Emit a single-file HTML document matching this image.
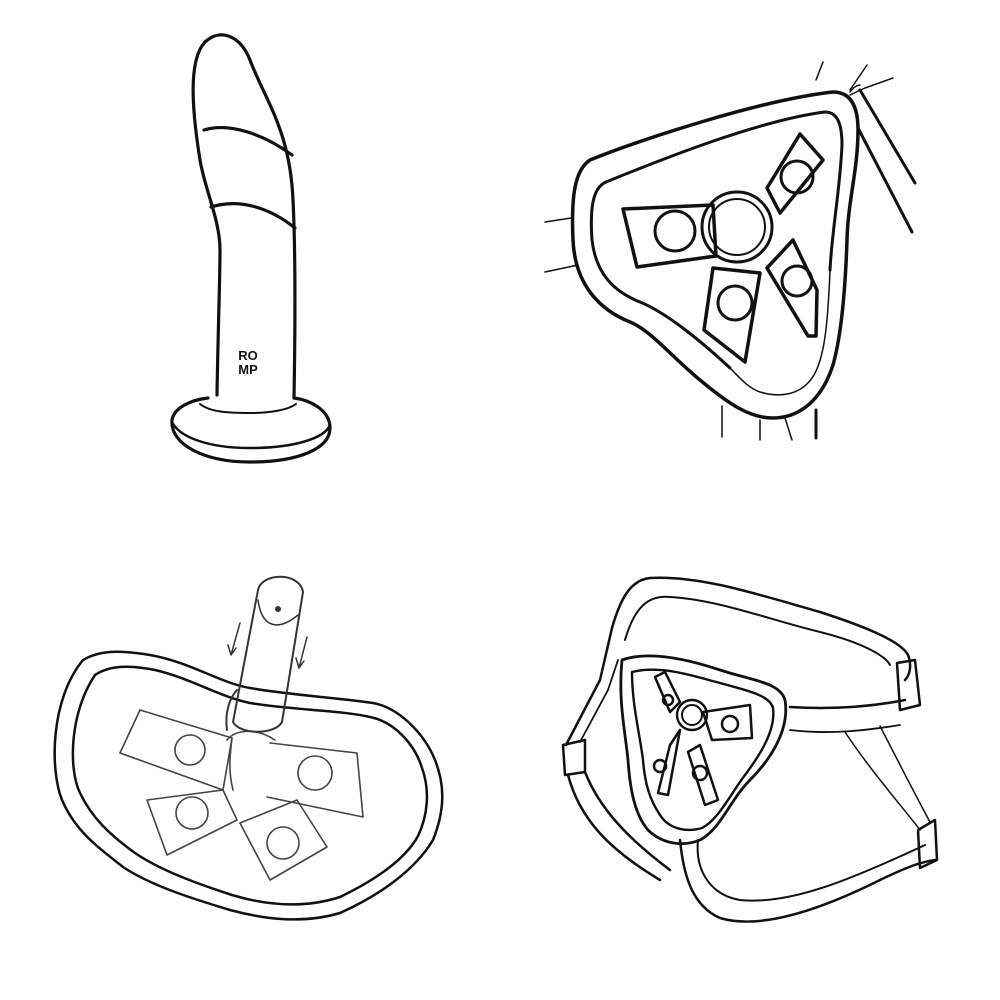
<!DOCTYPE html>
<html><head><style>html,body{margin:0;padding:0;background:#fff;}svg{display:block}</style></head>
<body>
<svg width="1000" height="1000" viewBox="0 0 1000 1000" xmlns="http://www.w3.org/2000/svg" fill="none" stroke="#111" stroke-linecap="round" stroke-linejoin="round">
<!-- Dildo -->
<g stroke-width="3.2">
<path d="M217,395 C218,330 220,280 220,250 C220,220 205,190 200,160 C192,110 188,60 205,42 C220,28 240,35 250,60 C265,100 290,130 293,200 C296,260 295,340 294,398"/>
<path d="M204,130 C230,122 265,135 292,155"/>
<path d="M211,207 C240,198 270,208 295,228"/>
<path d="M208,398 C190,400 174,408 172,420 C170,445 205,462 250,462 C300,462 330,448 330,428 C330,410 310,400 294,398"/>
<path d="M172,422 C180,438 210,448 250,448 C295,448 325,438 330,425" stroke-width="2.5"/>
<path d="M200,404 C210,412 228,413 250,413 C270,413 288,410 296,404" stroke-width="2"/>
</g>
<text x="248" y="360" font-family="Liberation Sans, sans-serif" font-weight="bold" font-size="13" text-anchor="middle" fill="#111" stroke="none">RO</text>
<text x="248" y="374" font-family="Liberation Sans, sans-serif" font-weight="bold" font-size="13" text-anchor="middle" fill="#111" stroke="none">MP</text>

<!-- Top-right harness -->
<g stroke-width="3.5">
<path d="M590,160 C640,140 760,100 833,92 C850,92 858,105 858,130 C858,170 848,200 847,240 C845,300 840,340 833,365 C820,405 795,418 773,418 C750,418 730,405 700,380 C670,355 650,330 630,322 C600,310 575,285 573,240 C571,195 575,170 590,160 Z"/>
<path d="M606,182 C660,160 760,120 825,112 C838,112 842,125 842,145 C840,190 832,230 830,270" stroke-width="3"/>
<path d="M606,182 C592,188 590,210 592,240 C596,275 615,292 640,302 C665,312 700,340 730,368" stroke-width="3"/>
<path d="M830,270 C828,320 825,360 812,378 C800,395 780,398 760,392 C748,388 740,378 730,368" stroke-width="1.5"/>
</g>
<g stroke-width="1.5">
<path d="M816,80 L823,62"/><path d="M850,90 L867,65"/><path d="M853,95 L912,60" stroke="none"/>
<path d="M850,92 C855,85 860,85 860,85"/>
<path d="M860,90 L915,183" stroke-width="3"/><path d="M858,128 L912,232" stroke-width="3"/>
<path d="M545,222 L571,218"/><path d="M545,272 L578,265"/>
<path d="M722,406 L722,437"/><path d="M760,420 L760,440"/><path d="M785,418 L792,440"/>
<path d="M816,410 L816,438" stroke-width="3"/>
<path d="M850,95 L865,88 L893,78"/>
</g>
<g stroke-width="3.5">
<path d="M623,209 L713,205 L716,256 L637,267 Z"/>
<circle cx="675" cy="231" r="20" stroke-width="3"/>
<circle cx="737" cy="227" r="35" stroke-width="3"/>
<circle cx="737" cy="227" r="28" stroke-width="2"/>
<path d="M780,213 L767,188 L800,134 L823,160 Z"/>
<circle cx="797" cy="177" r="16" stroke-width="3"/>
<path d="M713,268 L760,273 L745,362 L704,330 Z"/>
<circle cx="735" cy="303" r="17" stroke-width="3"/>
<path d="M767,268 L793,240 L817,290 L816,336 L808,336 Z"/>
<circle cx="797" cy="281" r="15" stroke-width="3"/>
</g>

<!-- Bottom-left pad -->
<g stroke-width="2.5">
<path d="M83,660 C100,650 120,650 150,655 C190,662 220,683 250,688 C290,695 340,698 373,703 C400,708 425,735 435,760 C445,785 445,810 433,840 C415,870 380,895 340,913 C300,925 260,918 230,910 C190,898 150,885 123,867 C95,845 75,830 62,800 C50,770 50,700 83,660 Z"/>
<path d="M95,675 C110,665 130,665 155,670 C190,678 220,697 250,703 C290,710 340,710 370,717 C395,722 415,745 422,768 C430,790 428,815 418,836 C405,860 375,880 340,897 C300,910 262,904 232,895 C195,883 160,870 135,853 C110,835 92,818 80,793 C68,768 70,712 95,675 Z"/>
</g>
<g stroke-width="1.6" stroke="#444">
<path d="M140,710 L232,738 L223,790 L120,753 Z"/>
<circle cx="190" cy="750" r="15"/>
<path d="M270,743 L357,753 L363,817 L267,797"/>
<circle cx="315" cy="773" r="17"/>
<path d="M147,800 L223,790 L237,820 L167,855 Z"/>
<circle cx="192" cy="813" r="16"/>
<path d="M240,823 L297,800 L327,847 L270,880 Z"/>
<circle cx="283" cy="843" r="16"/>
<path d="M227,740 C235,730 255,727 275,740"/>
<path d="M233,790 C228,770 230,755 232,738"/>
</g>
<g stroke-width="2" stroke="#333">
<path d="M233,722 L258,590 C262,572 300,572 303,592 L282,722 C275,735 240,735 233,722 Z"/>
<path d="M258,600 C262,630 280,630 298,615" stroke-width="1.5"/>
<path d="M227,730 C225,715 228,700 237,690"/>
<circle cx="278" cy="609" r="2" fill="#333"/>
<path d="M240,623 L231,655 M231,655 L228,645 M231,655 L236,648" stroke-width="1.5"/>
<path d="M307,637 L299,668 M299,668 L296,658 M299,668 L304,661" stroke-width="1.5"/>
</g>

<!-- Bottom-right briefs -->
<g stroke-width="2.5">
<path d="M612,628 C620,600 630,580 650,578 C700,575 760,595 820,612 C860,625 900,640 908,655 C912,665 910,675 905,680"/>
<path d="M625,640 C635,605 650,595 670,597 C720,600 770,620 820,632 C860,642 885,655 890,665" stroke-width="2"/>
<path d="M905,700 C880,705 840,710 790,707"/>
<path d="M900,725 C870,730 830,735 790,730" stroke-width="1.8"/>
<path d="M897,663 L915,660 L920,705 L900,710 Z"/>
<path d="M563,745 L585,740 L585,772 L565,775 Z"/>
<path d="M566,745 L600,680 L612,628"/>
<path d="M580,742 L608,690 L618,660" stroke-width="1.8"/>
<path d="M568,775 C580,820 610,850 660,880"/>
<path d="M585,772 C600,810 630,840 670,870"/>
<path d="M680,840 C683,870 690,905 720,918 C760,930 820,910 880,880 C905,868 920,862 935,860"/>
<path d="M698,840 C695,870 710,895 740,900 C790,905 850,880 925,845" stroke-width="2"/>
<path d="M918,830 L935,820 L937,860 L920,868 Z"/>
<path d="M845,732 C870,770 905,810 920,830" stroke-width="1.5"/>
<path d="M880,726 C900,765 918,800 930,822" stroke-width="1.5"/>
<path d="M622,660 C650,650 690,660 720,670 C750,680 780,682 785,700 C790,730 770,760 750,780 C730,800 720,830 700,840 C680,848 660,842 648,830 C635,815 630,790 628,760 C625,730 618,700 622,660 Z" stroke-width="2.8"/>
<path d="M632,672 C660,665 690,675 720,683 C745,690 770,695 773,708 C776,730 760,755 745,775 C730,795 718,820 702,828 C685,833 668,828 660,815 C650,800 645,785 643,760 C640,735 632,705 632,672 Z" stroke-width="2.4"/>
<circle cx="692" cy="715" r="15" stroke-width="2.4"/>
<circle cx="692" cy="715" r="10" stroke-width="2"/>
<path d="M655,677 L665,672 L680,702 L670,712 Z"/>
<circle cx="668" cy="700" r="5"/>
<path d="M703,712 L750,705 L752,738 L712,740 Z"/>
<circle cx="730" cy="724" r="8"/>
<path d="M670,745 L680,730 L668,795 L658,793 Z"/>
<circle cx="660" cy="766" r="6"/>
<path d="M688,752 L700,745 L718,800 L705,805 Z"/>
<circle cx="700" cy="773" r="7"/>
</g>
</svg>
</body></html>
